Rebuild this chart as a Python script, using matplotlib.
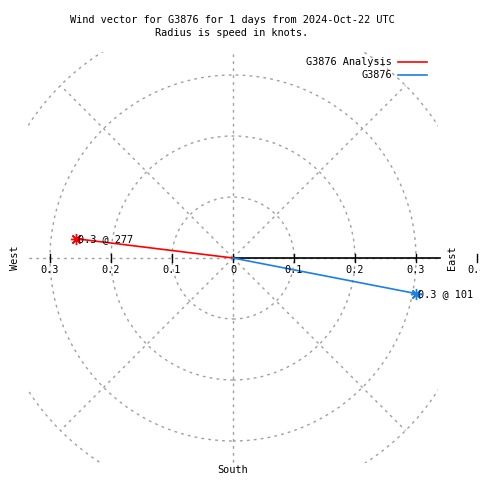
import numpy as np
import matplotlib
matplotlib.use("Agg")
import matplotlib.pyplot as plt
from matplotlib.patches import Circle, Rectangle
from matplotlib.lines import Line2D

# ---- data ----
series_names = ["G3876 Analysis", "G3876"]
series_speed = [0.26, 0.306]        # knots
series_dir = [277, 101]             # degrees, compass
series_colors = ["#ff0000", "#1a7fe8"]
ring_radii = [0.1, 0.2, 0.3, 0.4]
spoke_angles = [0, 45, 90, 135, 180, 225, 270, 315]
tick_values = [-0.3, -0.2, -0.1, 0.0, 0.1, 0.2, 0.3]
tick_labels = ["0.3", "0.2", "0.1", "0", "0.1", "0.2", "0.3"]
title_lines = ["Wind vector for G3876 for 1 days from 2024-Oct-22 UTC",
               "Radius is speed in knots."]

FONT = "DejaVu Sans Mono"
FS = 7.4
W = H = 480
PPU = 610.0          # pixels per knot
CX, CY = 233, 258    # centre pixel (from top)
LIM = 0.336          # plot box half width (knots)

fig = plt.figure(figsize=(4.8, 4.8), dpi=100)
ax = fig.add_axes([0, 0, 1, 1])
ax.set_xlim(-CX / PPU, (W - CX) / PPU)
ax.set_ylim(-(H - CY) / PPU, CY / PPU)
ax.axis("off")

grid_col = "#a0a0a0"
clip = Rectangle((-LIM, -LIM), 2 * LIM, 2 * LIM + 0.002, transform=ax.transData,
                 fill=False, visible=False)
ax.add_patch(clip)

for r in ring_radii:
    c = Circle((0, 0), r, fill=False, edgecolor=grid_col, lw=1,
               linestyle=(0, (2, 3)))
    ax.add_patch(c)
    c.set_clip_path(clip)

for a in spoke_angles:
    t = np.deg2rad(a)
    ln, = ax.plot([0, 0.4 * np.cos(t) * 1.5], [0, 0.4 * np.sin(t) * 1.5],
                  color=grid_col, lw=1, linestyle=(0, (2, 3)))
    if a % 90 == 0:
        ln.set_clip_path(clip)
    else:
        # end spokes on outer ring
        ln.set_data([0, 0.4 * np.cos(t)], [0, 0.4 * np.sin(t)])
        ln.set_clip_path(clip)

# black r axis on the right
ax.plot([0, LIM + 0.003], [0, 0], color="black", lw=1.2)
tick_h = 4 / PPU
for v in tick_values + [0.4]:
    ax.plot([v, v], [-tick_h, tick_h], color="black", lw=1)
for v, lab in zip(tick_values + [0.4], tick_labels + ["0.4"]):
    ax.text(v, -12 / PPU, lab, ha="center", va="center", fontsize=FS,
            family=FONT)

# vectors
for name, s, d, col in zip(series_names, series_speed, series_dir, series_colors):
    t = np.deg2rad(d)
    x, y = s * np.sin(t), s * np.cos(t)
    ax.plot([0, x], [0, y], color=col, lw=1.2)
    ax.plot([x], [y], marker=(8, 2, 0), color=col, markersize=8, mew=1)
    ax.annotate(f"{s:.1f} @ {d}", (x, y), xytext=(1.5, 0), textcoords="offset points",
                ha="left", va="center", fontsize=FS, family=FONT)

# direction labels
def px(xp, yp):
    return (xp - CX) / PPU, (CY - yp) / PPU

ax.text(*px(15, 258), "West", rotation=90, ha="center", va="center",
        fontsize=FS, family=FONT)
ax.text(*px(452, 258), "East", rotation=90, ha="center", va="center",
        fontsize=FS, family=FONT)
ax.text(*px(233, 470), "South", ha="center", va="center",
        fontsize=FS, family=FONT)

# title
for i, line in enumerate(title_lines):
    fig.text(232 / W, 1 - (20 + 13 * i) / H, line, ha="center", va="center",
             fontsize=FS, family=FONT)

# legend
for i, (name, col) in enumerate(zip(series_names, series_colors)):
    yp = 62 + 13 * i
    fig.text(392 / W, 1 - yp / H, name, ha="right", va="center",
             fontsize=FS, family=FONT)
    fig.add_artist(Line2D([398 / W, 427 / W], [1 - yp / H, 1 - yp / H],
                          color=col, lw=1.2, transform=fig.transFigure))

fig.savefig("out.png", dpi=100)
